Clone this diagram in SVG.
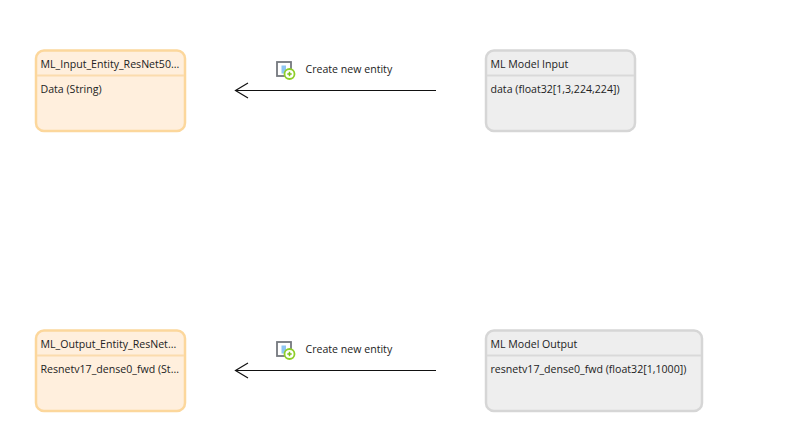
<svg xmlns="http://www.w3.org/2000/svg" width="789" height="445" viewBox="0 0 789 445">
<style>
text{font-family:"Open Sans","Noto Sans","Liberation Sans",sans-serif;font-size:10.6px;fill:#222}
.body{stroke-width:2.500}
.or{fill:#ffefdd;stroke:#fcd79c}
.gr{fill:#eeeeee;stroke:#d6d6d6}
.sep{stroke-width:2;fill:none}
.orl{stroke:#fbdcae}
.grl{stroke:#d9d9d9}
.conn{stroke:#111;stroke-width:1.2;fill:none}
</style>
<defs>
<g id="icon">
<rect x="1" y="1" width="14" height="14" fill="#fff" stroke="#74787e" stroke-width="1.8"/>
<rect x="5.500" y="4.500" width="4.500" height="8" fill="#8ec6f2"/>
<circle cx="13.500" cy="13" r="5" fill="#fff" stroke="#8fcf2a" stroke-width="1.800"/>
<path d="M11.300 13h4.400M13.500 10.800v4.400" stroke="#7cc118" stroke-width="1.500" fill="none"/>
</g>
</defs>
<g id="connectors">
<path class="conn" d="M436 90.500H236M248 83l-12.500 7.500L248 98"/>
<path class="conn" d="M436 370.500H236M248 363l-12.500 7.500L248 378"/>
</g>
<g id="label-input"><use href="#icon" x="276" y="61"/><text x="305.500" y="73">Create new entity</text></g>
<g id="label-output"><use href="#icon" x="276" y="341"/><text x="305.500" y="353">Create new entity</text></g>
<g id="ml-input-entity">
<rect class="body or" x="36" y="50.500" width="149" height="80.500" rx="8"/>
<path class="sep orl" d="M37 75.500H184"/>
<text x="40.500" y="67.500">ML_Input_Entity_ResNet50...</text>
<text x="40.500" y="92.500">Data (String)</text>
</g>
<g id="ml-model-input">
<rect class="body gr" x="486" y="50.500" width="149" height="80.500" rx="8"/>
<path class="sep grl" d="M487 75.500H634"/>
<text x="490.500" y="67.500">ML Model Input</text>
<text x="490.500" y="92.500">data (float32[1,3,224,224])</text>
</g>
<g id="ml-output-entity">
<rect class="body or" x="36" y="330.500" width="149" height="80.500" rx="8"/>
<path class="sep orl" d="M37 355.500H184"/>
<text x="40.500" y="347.500">ML_Output_Entity_ResNet...</text>
<text x="40.500" y="372.500">Resnetv17_dense0_fwd (St...</text>
</g>
<g id="ml-model-output">
<rect class="body gr" x="486" y="330.500" width="216" height="80.500" rx="8"/>
<path class="sep grl" d="M487 355.500H701"/>
<text x="490.500" y="347.500">ML Model Output</text>
<text x="490.500" y="372.500">resnetv17_dense0_fwd (float32[1,1000])</text>
</g>
</svg>
